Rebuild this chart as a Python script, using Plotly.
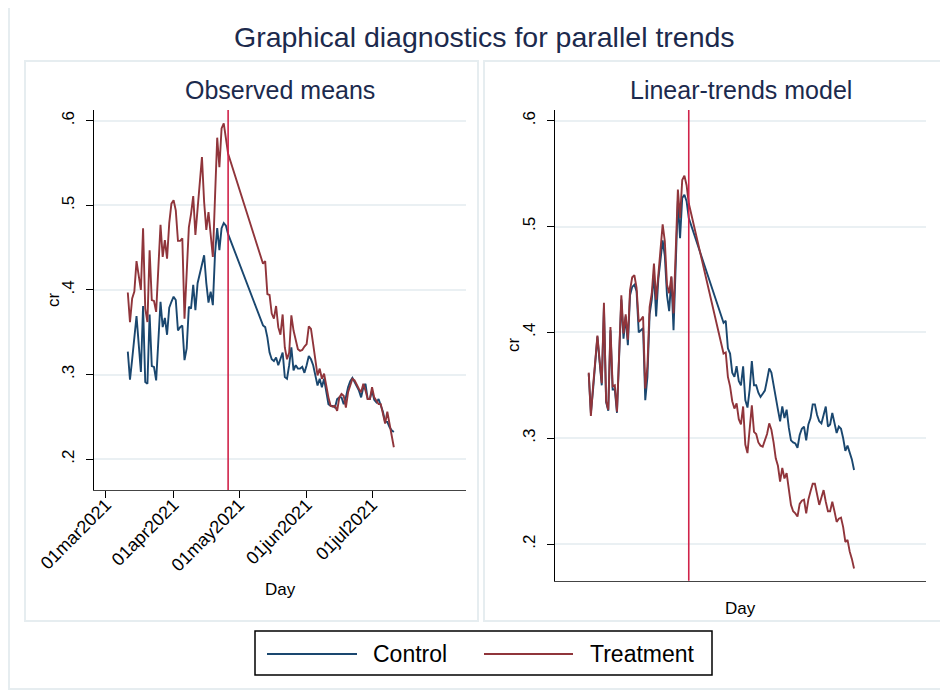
import pandas as pd
import plotly.graph_objects as go

W, H = 948, 695
OFF = 8  # page body margin in the browser

# daily observations: pre-period and post-period (no data in between)
pre_days = pd.date_range("2021-03-11", "2021-04-26", freq="D")
post_days = pd.date_range("2021-05-12", "2021-07-11", freq="D")
days = list(pre_days) + list(post_days)
treat_day = "2021-04-26"

# Observed means
obs_control_pre = [0.327, 0.294, 0.318, 0.343, 0.369, 0.336, 0.303, 0.381, 0.291, 0.289,
                   0.371, 0.310, 0.309, 0.293, 0.340, 0.386, 0.356, 0.367, 0.347, 0.379,
                   0.386, 0.392, 0.388, 0.352, 0.356, 0.358, 0.317, 0.331, 0.380, 0.378,
                   0.406, 0.376, 0.408, 0.420, 0.431, 0.441, 0.408, 0.385, 0.398, 0.382,
                   0.443, 0.473, 0.447, 0.473, 0.479, 0.476, 0.466]
obs_control_post = [0.358, 0.356, 0.344, 0.326, 0.318, 0.316, 0.320, 0.311, 0.318, 0.326,
                    0.297, 0.295, 0.311, 0.332, 0.305, 0.311, 0.307, 0.307, 0.309, 0.302,
                    0.311, 0.322, 0.318, 0.311, 0.299, 0.287, 0.295, 0.285, 0.295, 0.279,
                    0.265, 0.263, 0.263, 0.261, 0.271, 0.273, 0.273, 0.265, 0.273, 0.285,
                    0.292, 0.296, 0.291, 0.285, 0.281, 0.273, 0.285, 0.289, 0.271, 0.271,
                    0.281, 0.270, 0.267, 0.271, 0.263, 0.256, 0.244, 0.244, 0.238, 0.234,
                    0.232]
obs_treat_pre = [0.397, 0.362, 0.390, 0.398, 0.434, 0.415, 0.400, 0.473, 0.378, 0.362,
                 0.447, 0.388, 0.387, 0.374, 0.425, 0.477, 0.439, 0.459, 0.437, 0.479,
                 0.502, 0.506, 0.494, 0.458, 0.458, 0.461, 0.366, 0.420, 0.474, 0.490,
                 0.511, 0.465, 0.494, 0.525, 0.557, 0.504, 0.471, 0.492, 0.465, 0.439,
                 0.510, 0.580, 0.545, 0.591, 0.597, 0.581, 0.561]
obs_treat_post = [0.431, 0.434, 0.395, 0.394, 0.372, 0.366, 0.381, 0.356, 0.347, 0.371,
                  0.332, 0.318, 0.326, 0.370, 0.352, 0.342, 0.330, 0.328, 0.329, 0.333,
                  0.336, 0.357, 0.354, 0.336, 0.317, 0.299, 0.307, 0.295, 0.301, 0.285,
                  0.273, 0.263, 0.262, 0.263, 0.257, 0.273, 0.277, 0.275, 0.261, 0.279,
                  0.288, 0.295, 0.293, 0.287, 0.283, 0.279, 0.289, 0.281, 0.271, 0.271,
                  0.285, 0.273, 0.269, 0.265, 0.265, 0.252, 0.242, 0.256, 0.242, 0.230,
                  0.214]

# Linear-trends model
lin_control_pre = [0.361, 0.324, 0.346, 0.372, 0.396, 0.372, 0.350, 0.424, 0.334, 0.326,
                   0.402, 0.346, 0.346, 0.324, 0.380, 0.431, 0.394, 0.415, 0.388, 0.435,
                   0.443, 0.445, 0.439, 0.400, 0.402, 0.404, 0.336, 0.358, 0.417, 0.431,
                   0.456, 0.415, 0.450, 0.470, 0.487, 0.472, 0.435, 0.420, 0.452, 0.402,
                   0.460, 0.524, 0.489, 0.527, 0.530, 0.524, 0.508]
lin_control_post = [0.409, 0.411, 0.385, 0.380, 0.362, 0.358, 0.368, 0.354, 0.350, 0.368,
                    0.336, 0.329, 0.346, 0.373, 0.350, 0.350, 0.343, 0.339, 0.342, 0.345,
                    0.355, 0.366, 0.362, 0.350, 0.335, 0.327, 0.316, 0.330, 0.319, 0.327,
                    0.310, 0.298, 0.296, 0.295, 0.291, 0.303, 0.309, 0.311, 0.298, 0.313,
                    0.319, 0.332, 0.332, 0.322, 0.316, 0.314, 0.322, 0.330, 0.311, 0.313,
                    0.324, 0.315, 0.305, 0.311, 0.309, 0.300, 0.288, 0.293, 0.286, 0.280,
                    0.270]
lin_treat_pre = [0.362, 0.321, 0.349, 0.375, 0.397, 0.374, 0.352, 0.428, 0.335, 0.327,
                 0.405, 0.349, 0.350, 0.325, 0.380, 0.435, 0.399, 0.417, 0.393, 0.440,
                 0.452, 0.454, 0.442, 0.410, 0.412, 0.415, 0.347, 0.368, 0.424, 0.437,
                 0.465, 0.431, 0.454, 0.480, 0.502, 0.486, 0.445, 0.437, 0.453, 0.418,
                 0.480, 0.535, 0.508, 0.544, 0.548, 0.539, 0.522]
lin_treat_post = [0.380, 0.381, 0.358, 0.349, 0.335, 0.328, 0.333, 0.318, 0.313, 0.330,
                  0.294, 0.286, 0.308, 0.331, 0.306, 0.304, 0.296, 0.293, 0.292, 0.298,
                  0.304, 0.314, 0.308, 0.296, 0.281, 0.274, 0.259, 0.272, 0.262, 0.267,
                  0.250, 0.237, 0.231, 0.229, 0.226, 0.238, 0.241, 0.242, 0.229, 0.242,
                  0.250, 0.257, 0.257, 0.247, 0.237, 0.244, 0.251, 0.240, 0.231, 0.231,
                  0.240, 0.231, 0.221, 0.224, 0.225, 0.216, 0.202, 0.204, 0.193, 0.186,
                  0.177]

date_ticks = ["2021-03-01", "2021-04-01", "2021-05-01", "2021-06-01", "2021-07-01"]
date_labels = ["01mar2021", "01apr2021", "01may2021", "01jun2021", "01jul2021"]
y_ticks = [0.2, 0.3, 0.4, 0.5, 0.6]
y_labels = [".2", ".3", ".4", ".5", ".6"]

NAVY = "#1a476f"
MAROON = "#90353b"
XLINE = "#d0234a"
FRAME = "#e6edf0"
TITLE = "#1c2a4d"
FONT = "Arial, Liberation Sans, sans-serif"


def px(x):
    return (x - OFF) / W


def py(y):
    return 1 - (y - OFF) / H


fig = go.Figure()
series = [
    ("x", "y", obs_control_pre + obs_control_post, NAVY, "Control"),
    ("x", "y", obs_treat_pre + obs_treat_post, MAROON, "Treatment"),
    ("x2", "y2", lin_control_pre + lin_control_post, NAVY, "Control"),
    ("x2", "y2", lin_treat_pre + lin_treat_post, MAROON, "Treatment"),
]
for xa, ya, vals, col, name in series:
    fig.add_trace(go.Scatter(
        x=days, y=vals, xaxis=xa, yaxis=ya, mode="lines", name=name,
        line=dict(color=col, width=1.9), showlegend=False,
    ))

x_range = ["2021-02-23 12:00", "2021-08-13 02:00"]
_YAX = dict(
    tickvals=y_ticks, ticktext=y_labels, tickangle=-90,
    ticks="outside", ticklen=7, tickcolor="black", tickwidth=1,
    showline=True, linecolor="black", linewidth=1.2,
    showgrid=True, gridcolor="#eaf0f3", gridwidth=1.5, zeroline=False,
    tickfont=dict(size=17, color="black"), ticklabelstandoff=5,
)

fig.update_layout(
    width=W, height=H,
    margin=dict(l=0, r=0, t=0, b=0, autoexpand=False),
    paper_bgcolor="white", plot_bgcolor="white",
    font=dict(family=FONT, color="black"),
    xaxis=dict(
        domain=[px(94), px(466)], range=x_range, type="date", anchor="y",
        tickvals=date_ticks, ticktext=date_labels, tickangle=-45,
        ticks="outside", ticklen=7, tickcolor="black",
        showline=True, linecolor="#444", linewidth=1.2,
        showgrid=False, zeroline=False, automargin=False,
        tickfont=dict(size=18, color="black"), ticklabelstandoff=-11,
    ),
    yaxis=dict(domain=[py(490), py(110)], range=[0.1635, 0.6127], anchor="x",
               automargin=False, **_YAX),
    xaxis2=dict(
        domain=[px(555), px(926)], range=x_range, type="date", anchor="y2",
        showticklabels=False, ticks="",
        showline=True, linecolor="#444", linewidth=1.2,
        showgrid=False, zeroline=False, automargin=False,
    ),
    yaxis2=dict(domain=[py(580.7), py(110)], range=[0.1654, 0.6101], anchor="x2",
                automargin=False, **_YAX),
)

shapes = [
    # outer frame and the two panel frames
    dict(type="rect", xref="paper", yref="paper", x0=px(9), x1=px(946), y0=py(689), y1=py(7),
         line=dict(color=FRAME, width=2)),
    dict(type="rect", xref="paper", yref="paper", x0=px(25), x1=px(478), y0=py(621), y1=py(61),
         line=dict(color=FRAME, width=2)),
    dict(type="rect", xref="paper", yref="paper", x0=px(484), x1=px(943), y0=py(621), y1=py(61),
         line=dict(color=FRAME, width=2)),
    # treatment date
    dict(type="line", xref="x", yref="y domain", x0=treat_day, x1=treat_day, y0=0, y1=1,
         line=dict(color=XLINE, width=1.6)),
    dict(type="line", xref="x2", yref="y2 domain", x0=treat_day, x1=treat_day, y0=0, y1=1,
         line=dict(color=XLINE, width=1.6)),
    # legend box and keys
    dict(type="rect", xref="paper", yref="paper", x0=px(255), x1=px(712), y0=py(675), y1=py(631),
         line=dict(color="black", width=1.5), fillcolor="white"),
    dict(type="line", xref="paper", yref="paper", x0=px(267), x1=px(357), y0=py(654), y1=py(654),
         line=dict(color=NAVY, width=2)),
    dict(type="line", xref="paper", yref="paper", x0=px(484), x1=px(573), y0=py(654), y1=py(654),
         line=dict(color=MAROON, width=2)),
]
fig.update_layout(shapes=shapes)

annotations = [
    dict(text="Graphical diagnostics for parallel trends", x=px(484), y=py(37),
         font=dict(size=28.5, color=TITLE)),
    dict(text="Observed means", x=px(280), y=py(90), font=dict(size=25, color=TITLE)),
    dict(text="Linear-trends model", x=px(740.5), y=py(90), font=dict(size=25, color=TITLE)),
    dict(text="Day", x=px(280), y=py(589), font=dict(size=17)),
    dict(text="Day", x=px(740.5), y=py(608), font=dict(size=17)),
    dict(text="cr", x=px(53), y=py(300), textangle=-90, font=dict(size=17)),
    dict(text="cr", x=px(513), y=py(345), textangle=-90, font=dict(size=17)),
    dict(text="Control", x=px(371), y=py(654), xanchor="left", font=dict(size=23)),
    dict(text="Treatment", x=px(588), y=py(654), xanchor="left", font=dict(size=23)),
]
for a in annotations:
    a.setdefault("xanchor", "center")
    fig.add_annotation(xref="paper", yref="paper", yanchor="middle", showarrow=False, **a)

fig.write_html("out.html")
